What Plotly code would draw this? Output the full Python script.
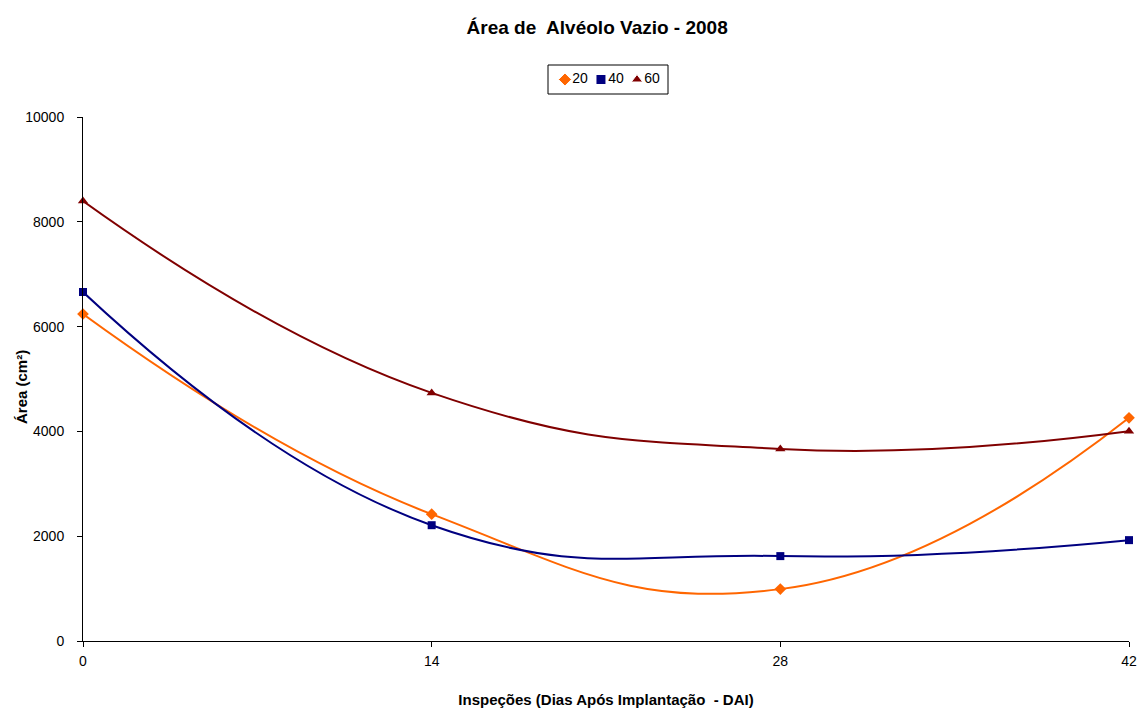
import plotly.graph_objects as go

dias = [0, 14, 28, 42]
serie_20 = [6240, 2420, 990, 4260]
serie_40 = [6660, 2210, 1620, 1925]
serie_60 = [8395, 4735, 3665, 4005]
nomes = ["20", "40", "60"]
cores = ["#FF6600", "#000080", "#800000"]
simbolos = ["diamond", "square", "triangle-up"]
tick_vals_x = [0, 14, 28, 42]
tick_vals_y = [0, 2000, 4000, 6000, 8000, 10000]
tick_text_y = ["0", "2000", "4000", "6000", "8000", "10000"]

FONT = "Liberation Sans, Arial, sans-serif"

fig = go.Figure()
for name, vals, color, sym in zip(nomes, [serie_20, serie_40, serie_60], cores, simbolos):
    fig.add_trace(go.Scatter(
        x=dias, y=vals, name=name, mode="lines+markers", showlegend=False,
        line=dict(color=color, width=2, shape="spline", smoothing=1.3),
        marker=dict(symbol=sym, size=9 if sym != "square" else 8, color=color),
        cliponaxis=False, xaxis="x", yaxis="y",
    ))

# legend drawn as a small category-axis trace
fig.add_trace(go.Scatter(
    x=nomes, y=[0, 0, 0], mode="markers+text", text=nomes, textposition="middle right",
    textfont=dict(family=FONT, size=14, color="black"),
    marker=dict(symbol=simbolos, size=[10, 10, 10], color=cores, opacity=1),
    showlegend=False, hoverinfo="skip", xaxis="x2", yaxis="y2", cliponaxis=False,
))

# geometry
H, W = 711, 1144
mt, mb, ml, mr = 40, 70, 83, 15
ph = H - mt - mb
pw = W - ml - mr
plot_top_px = 117
leg_top_px, leg_bot_px, leg_l_px, leg_r_px = 65, 94, 548, 668
bottom_px = H - mb

def py(px):
    return (bottom_px - px) / ph

def pxx(px):
    return (px - ml) / pw

fig.update_layout(
    width=W, height=H,
    paper_bgcolor="white", plot_bgcolor="white",
    margin=dict(l=ml, r=mr, t=mt, b=mb),
    title=dict(text="<b>Área de  Alvéolo Vazio - 2008</b>", x=0.522, xanchor="center",
               y=0.962, yanchor="middle", font=dict(family=FONT, size=19, color="black")),
    font=dict(family=FONT, size=14, color="black"),
    showlegend=False,
    xaxis=dict(range=[0, 42], tickvals=tick_vals_x, showgrid=False, zeroline=False,
               showline=True, linecolor="black", linewidth=1, ticks="outside",
               ticklen=5, tickcolor="black", mirror=False, automargin=False,
               ticklabelstandoff=2, anchor="y",
               title=dict(text="<b>Inspeções (Dias Após Implantação  - DAI)</b>",
                          font=dict(family=FONT, size=15), standoff=26),
               tickfont=dict(family=FONT, size=14)),
    yaxis=dict(range=[0, 10000], tickvals=tick_vals_y, ticktext=tick_text_y,
               domain=[0, py(plot_top_px)], anchor="x",
               showgrid=False, zeroline=False, automargin=False,
               showline=True, linecolor="black", linewidth=1, ticks="outside",
               ticklen=5, tickcolor="black", ticklabelstandoff=10,
               tickfont=dict(family=FONT, size=14)),
    xaxis2=dict(type="category", domain=[pxx(leg_l_px), pxx(leg_r_px)], anchor="y2",
                range=[-0.47, 2.86], visible=False, fixedrange=True),
    yaxis2=dict(domain=[py(leg_bot_px), py(leg_top_px)], anchor="x2",
                range=[-1, 1], visible=False, fixedrange=True),
    shapes=[dict(type="rect", xref="x2 domain", yref="y2 domain", x0=0, x1=1, y0=0, y1=1,
                 line=dict(color="black", width=1), fillcolor="rgba(0,0,0,0)", layer="below")],
    annotations=[dict(text="<b>Área (cm²)</b>", textangle=-90, xref="paper", yref="paper",
                      x=pxx(22), y=py(387), xanchor="center", yanchor="middle",
                      showarrow=False, font=dict(family=FONT, size=15, color="black"))],
)

fig.write_html("out.html")
